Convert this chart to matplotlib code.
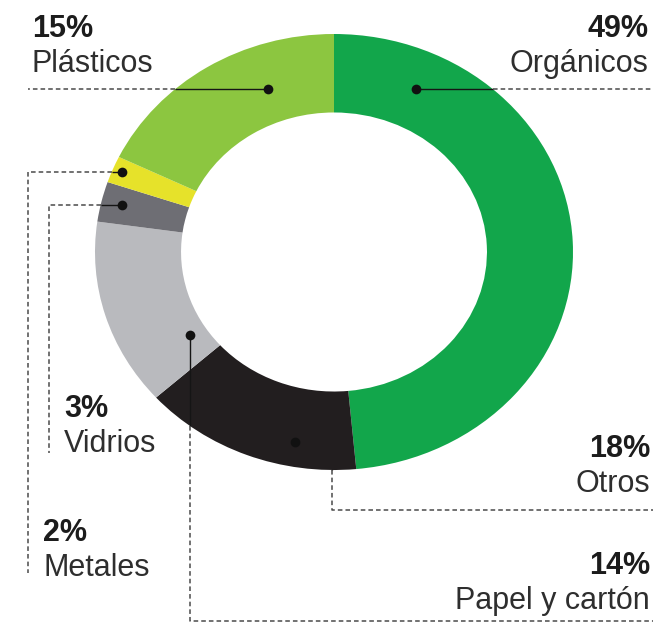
import matplotlib
matplotlib.use("Agg")
import matplotlib.pyplot as plt

# data, clockwise from 12 o'clock
categories = ["Orgánicos", "Otros", "Papel y cartón", "Vidrios", "Metales",
              "Plásticos"]
pct_labels = ["49%", "18%", "14%", "3%", "2%", "15%"]
# arc sizes as drawn in the picture (black and light green arcs are
# drawn as 15 and 18, the printed labels say the opposite)
arc_shares = [49, 15, 14, 3, 2, 18]
colors = ["#12a64b", "#221e1f", "#b9babe", "#6e6e74", "#e6e22a", "#8cc640"]

W, H = 660, 623
FONT = ["Liberation Sans", "DejaVu Sans"]


def draw_donut(fig):
    """draw_donut(fig)

Draws the ring in its own axes. The picture is slightly stretched
sideways, so the axes is not square and aspect stays 'auto'.
"""
    cx, cy, rx, ry = 334, 252, 239, 218
    ax = fig.add_axes([(cx - rx) / W, (H - cy - ry) / H, 2 * rx / W,
                       2 * ry / H])
    ax.pie(arc_shares, colors=colors, startangle=90, counterclock=False,
           radius=1.0, wedgeprops=dict(width=0.36, linewidth=0))
    ax.set_aspect("auto")
    ax.set_xlim(-1, 1)
    ax.set_ylim(-1, 1)
    ax.axis("off")


def leader(ax, solid, dashed, solid_color="#151515"):
    """leader(ax, solid, dashed, solid_color)

Solid piece from the dot to the ring edge, then dashed to the label.
"""
    xs, ys = zip(*solid)
    ax.plot(xs, ys, color=solid_color, lw=1.0, solid_capstyle="butt")
    xd, yd = zip(*dashed)
    ax.plot(xd, yd, color="#4a4a4a", lw=1.1, dashes=(3, 2))
    ax.plot(solid[0][0], solid[0][1], "o", color="#111111", ms=7, mew=0)


def label(ax, x, y, idx, ha):
    """label(ax, x, y, idx, ha)

Percentage in bold with the category name underneath.
"""
    ax.text(x, y, pct_labels[idx], ha=ha, va="baseline", fontsize=22,
            fontweight="bold", color="#1c1c1c", family=FONT)
    ax.text(x, y + 35, categories[idx], ha=ha, va="baseline", fontsize=22,
            color="#2e2e2e", family=FONT)


def main():
    fig = plt.figure(figsize=(W / 100, H / 100), dpi=100)
    fig.patch.set_facecolor("white")
    draw_donut(fig)

    ov = fig.add_axes([0, 0, 1, 1])
    ov.set_xlim(0, W)
    ov.set_ylim(H, 0)
    ov.patch.set_alpha(0)
    ov.axis("off")

    # Orgánicos
    leader(ov, [(416, 89), (493, 89)], [(493, 89), (652, 89)])
    label(ov, 648, 37, 0, "right")
    # Otros (piece inside the black arc is not visible)
    leader(ov, [(295, 442), (332, 442), (332, 470)],
           [(332, 470), (332, 510), (653, 510)], solid_color=colors[1])
    label(ov, 650, 457, 1, "right")
    # Papel y cartón
    leader(ov, [(190, 335), (190, 426)],
           [(190, 426), (190, 621), (653, 621)])
    label(ov, 650, 574, 2, "right")
    # Vidrios
    leader(ov, [(122, 205), (101, 205)],
           [(101, 205), (49, 205), (49, 453)])
    label(ov, 64, 417, 3, "left")
    # Metales
    leader(ov, [(122, 172), (112, 172)],
           [(112, 172), (28, 172), (28, 573)])
    label(ov, 43, 541, 4, "left")
    # Plásticos
    leader(ov, [(268, 89), (175, 89)], [(175, 89), (28, 89)])
    label(ov, 32, 37, 5, "left")

    fig.savefig("out.png", dpi=100, facecolor="white")


if __name__ == "__main__":
    main()
